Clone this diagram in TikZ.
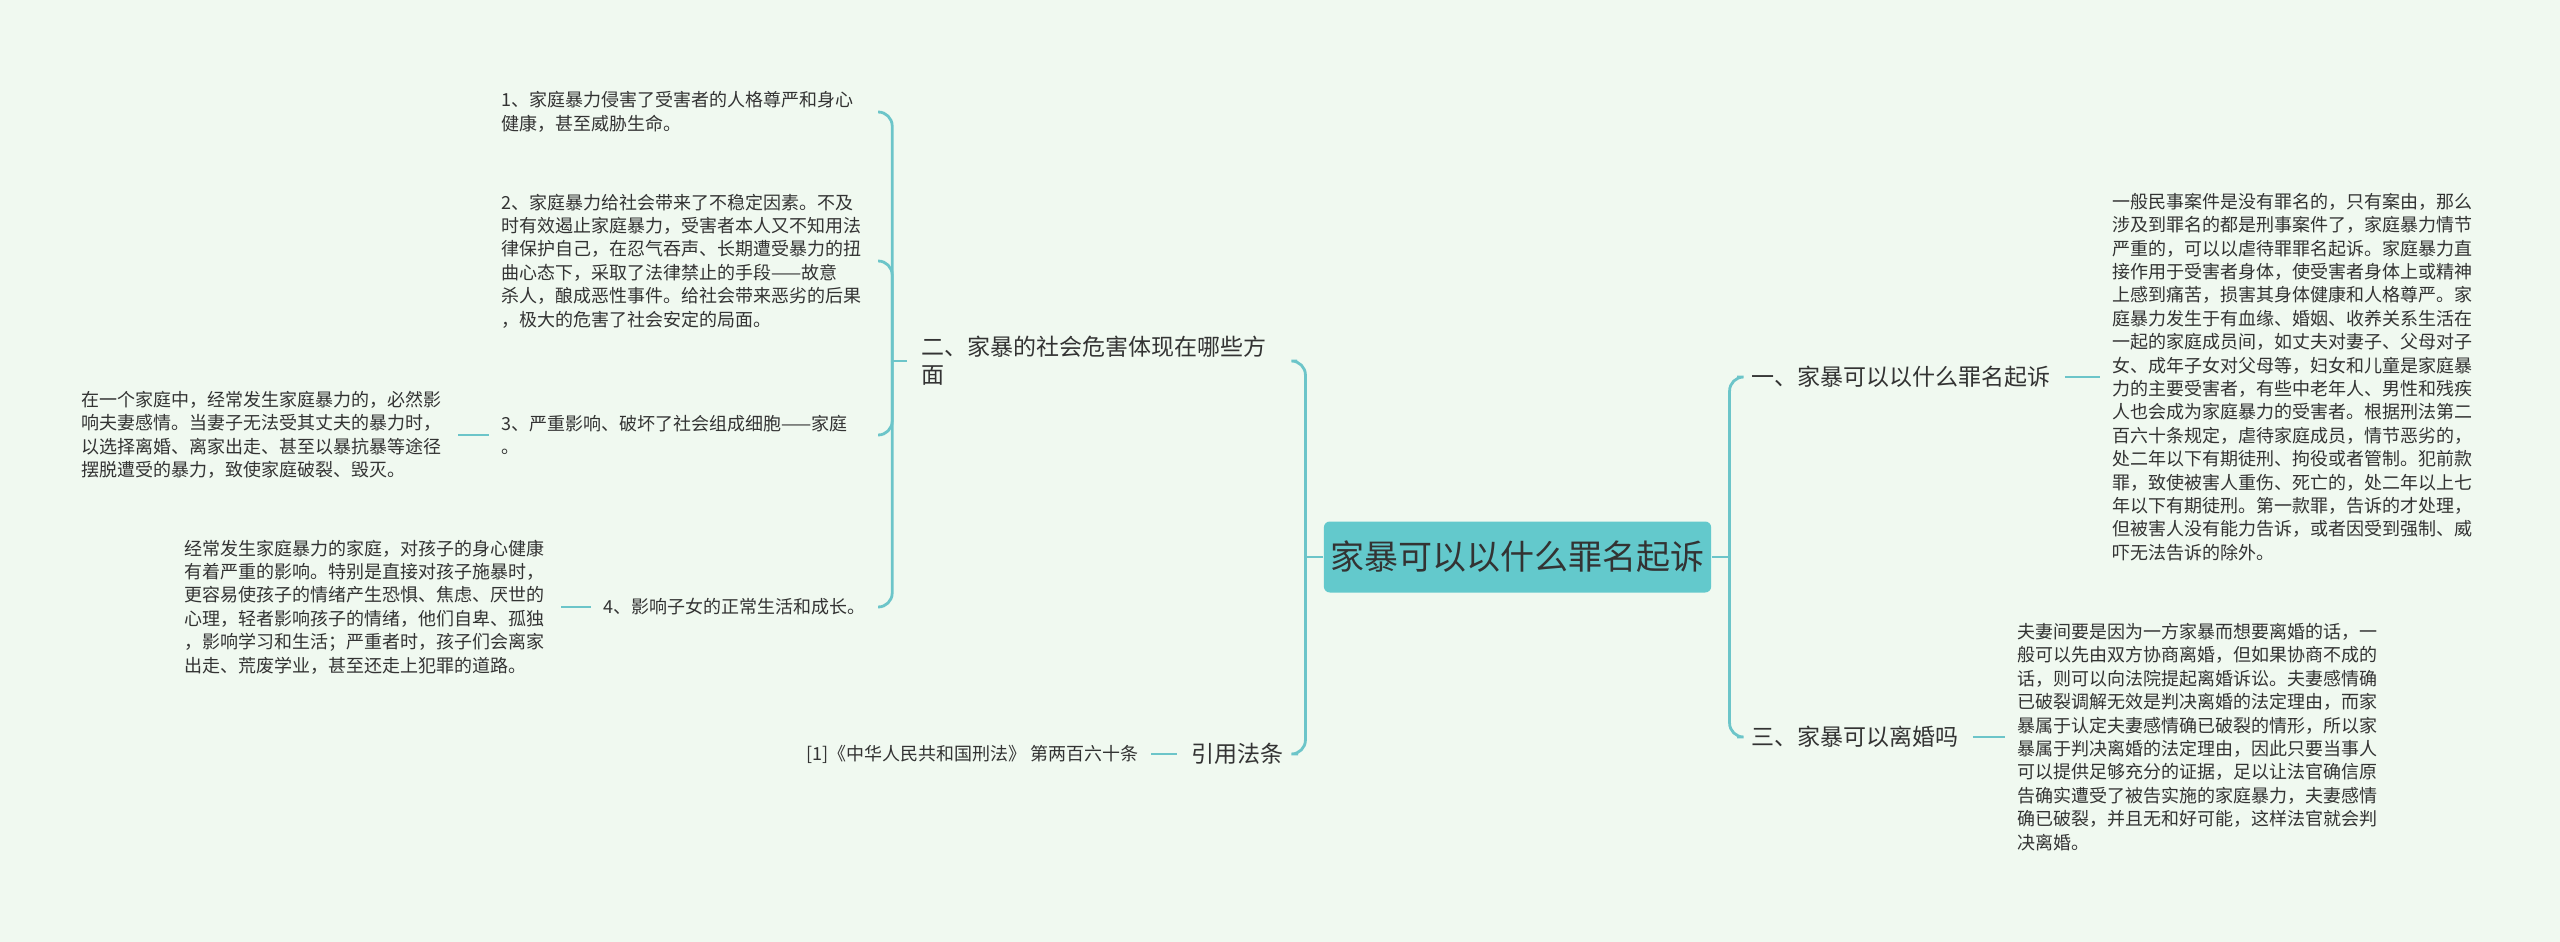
\documentclass[tikz,border=0pt]{standalone}
\usepackage{fontspec}
\setmainfont{Noto Sans CJK SC}
\usetikzlibrary{positioning}
\definecolor{bgmint}{HTML}{F0F9F0}
\definecolor{linkteal}{HTML}{6CC5C9}
\definecolor{rootfill}{HTML}{63C9CC}
\definecolor{ink}{HTML}{333333}

\begin{document}
\begin{tikzpicture}[x=0.5pt, y=-0.5pt, text=ink, root/.style={fill=rootfill, rounded corners=3pt, minimum width=186.5pt, minimum height=35.5pt, font=\fontsize{17pt}{20pt}\selectfont}, branch/.style={inner xsep=7pt, inner ysep=3pt, align=left, font=\fontsize{11.5pt}{14pt}\selectfont}, leaf/.style={inner xsep=6pt, inner ysep=3pt, align=left, font=\fontsize{9pt}{11.7pt}\selectfont}, para/.style={leaf, text width=182pt}, link/.style={draw=linkteal, line width=1.4pt, rounded corners=7pt}]
\fill[bgmint] (0,0) rectangle (2560,942);
\node[root] (root) at (1517.5,557) {家暴可以以什么罪名起诉};
\node[branch, anchor=west] (b1) at (1737,377) {一、家暴可以以什么罪名起诉};
\node[branch, anchor=west] (b3) at (1737,737) {三、家暴可以离婚吗};
\node[branch, anchor=east, text width=180.5pt] (b2) at (1297,361) {二、家暴的社会危害体现在哪些方\\面};
\node[branch, anchor=east] (cite) at (1298,754) {引用法条};
\node[para, right=17.5pt of b1] (r1) {一般民事案件是没有罪名的，只有案由，那么\\涉及到罪名的都是刑事案件了，家庭暴力情节\\严重的，可以以虐待罪罪名起诉。家庭暴力直\\接作用于受害者身体，使受害者身体上或精神\\上感到痛苦，损害其身体健康和人格尊严。家\\庭暴力发生于有血缘、婚姻、收养关系生活在\\一起的家庭成员间，如丈夫对妻子、父母对子\\女、成年子女对父母等，妇女和儿童是家庭暴\\力的主要受害者，有些中老年人、男性和残疾\\人也会成为家庭暴力的受害者。根据刑法第二\\百六十条规定，虐待家庭成员，情节恶劣的，\\处二年以下有期徒刑、拘役或者管制。犯前款\\罪，致使被害人重伤、死亡的，处二年以上七\\年以下有期徒刑。第一款罪，告诉的才处理，\\但被害人没有能力告诉，或者因受到强制、威\\吓无法告诉的除外。};
\node[para, right=16pt of b3] (r3) {夫妻间要是因为一方家暴而想要离婚的话，一\\般可以先由双方协商离婚，但如果协商不成的\\话，则可以向法院提起离婚诉讼。夫妻感情确\\已破裂调解无效是判决离婚的法定理由，而家\\暴属于认定夫妻感情确已破裂的情形，所以家\\暴属于判决离婚的法定理由，因此只要当事人\\可以提供足够充分的证据，足以让法官确信原\\告确实遭受了被告实施的家庭暴力，夫妻感情\\确已破裂，并且无和好可能，这样法官就会判\\决离婚。};
\node[para, anchor=east] (l1) at (878,112) {1、家庭暴力侵害了受害者的人格尊严和身心\\健康，甚至威胁生命。};
\node[para, anchor=east] (l2) at (878,261) {2、家庭暴力给社会带来了不稳定因素。不及\\时有效遏止家庭暴力，受害者本人又不知用法\\律保护自己，在忍气吞声、长期遭受暴力的扭\\曲心态下，采取了法律禁止的手段——故意\\杀人，酿成恶性事件。给社会带来恶劣的后果\\，极大的危害了社会安定的局面。};
\node[para, anchor=east] (l3) at (878,435) {3、严重影响、破坏了社会组成细胞——家庭\\。};
\node[leaf, anchor=east] (l4) at (878,607) {4、影响子女的正常生活和成长。};
\node[para, left=15.5pt of l3] (l3c) {在一个家庭中，经常发生家庭暴力的，必然影\\响夫妻感情。当妻子无法受其丈夫的暴力时，\\以选择离婚、离家出走、甚至以暴抗暴等途径\\摆脱遭受的暴力，致使家庭破裂、毁灭。};
\node[para, left=15pt of l4] (l4c) {经常发生家庭暴力的家庭，对孩子的身心健康\\有着严重的影响。特别是直接对孩子施暴时，\\更容易使孩子的情绪产生恐惧、焦虑、厌世的\\心理，轻者影响孩子的情绪，他们自卑、孤独\\，影响学习和生活；严重者时，孩子们会离家\\出走、荒废学业，甚至还走上犯罪的道路。};
\node[leaf, left=13pt of cite] (refc) {[1]《中华人民共和国刑法》 第两百六十条};
\draw[link] (root.west) -- ++(-9pt,0) coordinate (kl);
\foreach \nd in {b2,cite} \draw[link] (kl) |- (\nd.east);
\draw[link] (root.east) -- ++(9pt,0) coordinate (kr);
\foreach \nd in {b1,b3} \draw[link] (kr) |- (\nd.west);
\draw[link] (b2.west) -- ++(-7.5pt,0) coordinate (k2);
\foreach \nd in {l1,l2,l3,l4} \draw[link] (k2) |- (\nd.east);
\draw[link] (b1.east) -- (r1.west);
\draw[link] (b3.east) -- (r3.west);
\draw[link] (l3c.east) -- (l3.west);
\draw[link] (l4c.east) -- (l4.west);
\draw[link] (refc.east) -- (cite.west);
\end{tikzpicture}
\end{document}
